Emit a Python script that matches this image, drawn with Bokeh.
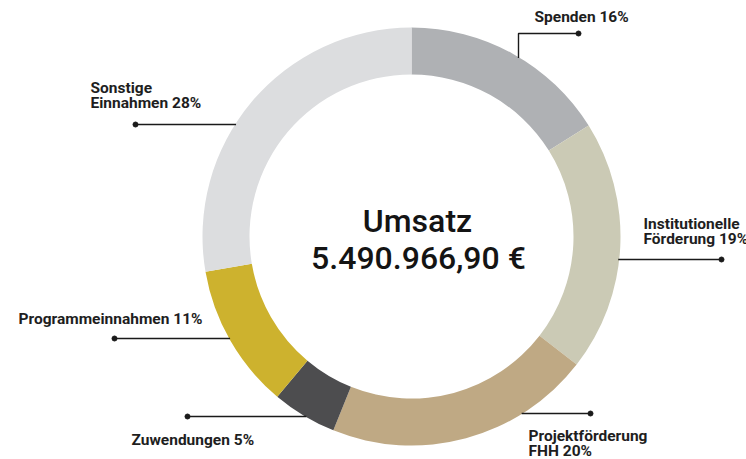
import math
from bokeh.plotting import figure
from bokeh.models import Range1d, ColumnDataSource
from bokeh.core.properties import value
from bokeh.embed import file_html
from bokeh.resources import INLINE

# ---- data (clockwise from 12 o'clock) ----
categories = ["Spenden", "Institutionelle Förderung", "Projektförderung FHH",
              "Zuwendungen", "Programmeinnahmen", "Sonstige Einnahmen"]
shares = [16.1, 19.4, 20.6, 5.0, 11.2, 27.7]          # share of ring as drawn
label_texts = ["Spenden 16%", "Institutionelle\nFörderung 19%", "Projektförderung\nFHH 20%",
               "Zuwendungen 5%", "Programmeinnahmen 11%", "Sonstige\nEinnahmen 28%"]
center_title = "Umsatz"
center_value = "5.490.966,90 €"

# ---- styles / layout ----
colors = ["#afb1b4", "#cbcab5", "#bfa984", "#4d4d4f", "#cdb22e", "#dcdddf"]
W, H = 746, 459
PAGE_H = 459
CX, CY = 411, 236          # ring centre in page pixels
R_OUT, R_IN = 209, 162

def Y(py):                  # page pixel y -> data y
    return PAGE_H - py

# leader layout: (kind, fixed coord, end coord) in page px; label (x, first line y)
leaders = [
    ("v", 518, (33, 578)),   # vertical up to y=33 then horizontal to x=578
    ("h", 259, 721),
    ("h", 413, 590),
    ("h", 416, 187),
    ("h", 338, 114),
    ("h", 124, 135),
]
label_pos = [(534, 16), (643, 223), (528, 435), (131, 439), (18, 318), (90, 87)]
line_h = 15.8

p = figure(width=W, height=H, output_backend="svg", toolbar_location=None,
           x_range=Range1d(0, W), y_range=Range1d(Y(H), Y(0)),
           min_border=0, outline_line_color=None)
p.axis.visible = False
p.grid.visible = False
p.background_fill_color = "white"
p.border_fill_color = "white"

# ---- ring ----
total = sum(shares)
starts, ends = [], []
cum = 0.0
for s in shares:
    a0 = math.pi / 2 - 2 * math.pi * (cum + s) / total
    a1 = math.pi / 2 - 2 * math.pi * cum / total
    starts.append(a0)
    ends.append(a1)
    cum += s
src = ColumnDataSource(dict(x=[CX] * len(shares), y=[Y(CY)] * len(shares),
                            start=starts, end=ends, color=colors, cat=categories))
p.annular_wedge(x="x", y="y", inner_radius=R_IN, outer_radius=R_OUT,
                start_angle="start", end_angle="end", color="color",
                line_color=None, source=src)

# ---- leaders ----
lx, ly, dx, dy = [], [], [], []
for kind, fixed, end in leaders:
    if kind == "v":
        ring_y = CY - math.sqrt(R_OUT ** 2 - (fixed - CX) ** 2)
        ey, ex = end
        lx.append([fixed, fixed, ex])
        ly.append([Y(ring_y + 1), Y(ey), Y(ey)])
        dx.append(ex); dy.append(Y(ey))
    else:
        off = math.sqrt(R_OUT ** 2 - (fixed - CY) ** 2)
        rx = CX + off if end > CX else CX - off
        rx += -1 if end > CX else 1
        lx.append([rx, end])
        ly.append([Y(fixed), Y(fixed)])
        dx.append(end); dy.append(Y(fixed))
p.multi_line(xs=lx, ys=ly, line_color="#1a1a1a", line_width=1.4)
p.scatter(x=dx, y=dy, size=5, color="#1a1a1a")

# ---- labels ----
tx, ty, tt = [], [], []
for (x0, y0), txt in zip(label_pos, label_texts):
    for i, ln in enumerate(txt.split("\n")):
        tx.append(x0); ty.append(Y(y0 + i * line_h)); tt.append(ln)
p.text(x=tx, y=ty, text=tt, text_font=value("Roboto"), text_font_style="bold",
       text_font_size="15.5px", text_color="#1e1e1e", text_align="left",
       text_baseline="middle")

# ---- centre text ----
p.text(x=[CX + 6, CX + 7], y=[Y(220), Y(257)], text=[center_title, center_value],
       text_font=value("Roboto Medium"), text_font_size="32px", text_color="#141414",
       text_align="center", text_baseline="middle")

open("out.html", "w").write(file_html(p, INLINE))
